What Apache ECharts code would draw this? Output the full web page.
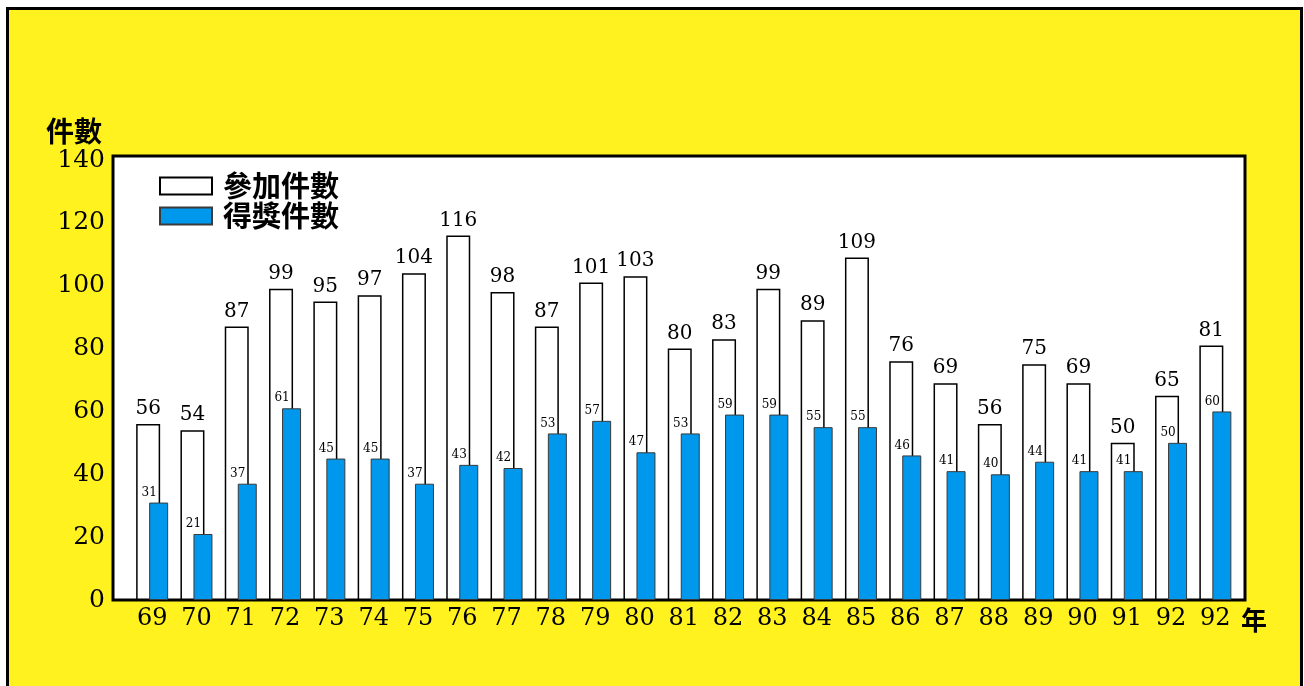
<!DOCTYPE html>
<html>
<head>
<meta charset="utf-8">
<script src="https://cdn.jsdelivr.net/npm/echarts@6/dist/echarts.min.js"></script>
<style>
html,body{margin:0;padding:0;background:#fff;overflow:hidden;width:1304px;height:686px;}
#frame{position:absolute;left:6px;top:7px;width:1297px;height:700px;box-sizing:border-box;border:3px solid #000;border-bottom:none;background:#FFF21E;}
#chart{position:absolute;left:0;top:0;width:1304px;height:686px;}
</style>
</head>
<body>
<div id="frame"></div>
<div id="chart"></div>
<script>
const categories = ['69','70','71','72','73','74','75','76','77','78','79','80','81','82','83','84','85','86','87','88','89','90','91','92','92'];
const participation = [56,54,87,99,95,97,104,116,98,87,101,103,80,83,99,89,109,76,69,56,75,69,50,65,81];
const awards = [31,21,37,61,45,45,37,43,42,53,57,47,53,59,59,55,55,46,41,40,44,41,41,50,60];
const yTicks = [0,20,40,60,80,100,120,140];
const seriesNames = ['參加件數','得獎件數'];

const chart = echarts.init(document.getElementById('chart'), null, {renderer:'canvas'});
const serif = 'DejaVu Serif';
const cjk = 'Noto Sans CJK TC';
chart.setOption({
  backgroundColor: 'transparent',
  animation: false,
  title: [
    {text:'件數', left:41, top:112, textStyle:{fontFamily:cjk, fontSize:28, fontWeight:'bold', color:'#000'}},
    {text:'年', left:1236, top:602, textStyle:{fontFamily:cjk, fontSize:26, fontWeight:'bold', color:'#000'}}
  ],
  legend: {
    data: seriesNames,
    orient: 'vertical',
    left: 159, top: 171,
    padding: 0,
    icon: 'rect',
    itemWidth: 52, itemHeight: 17, itemGap: 0,
    selectedMode: false,
    textStyle: {fontFamily:cjk, fontSize:29, fontWeight:'bold', color:'#000', lineHeight:30, padding:[0,0,0,6]}
  },
  grid: [
    {left:113, top:156, width:1132, height:444, show:true, backgroundColor:'#fff', borderColor:'#000', borderWidth:3, containLabel:false},
    {left:130, top:160, width:1107.5, height:440, containLabel:false}
  ],
  xAxis: [
    {type:'category', gridIndex:0, data:categories, show:false},
    {type:'category', gridIndex:1, data:categories,
     axisLine:{show:false}, axisTick:{show:false},
     axisLabel:{interval:0, margin:7, fontFamily:serif, fontSize:24, color:'#000'}}
  ],
  yAxis: [
    {type:'value', gridIndex:0, min:0, max:140, show:false, splitLine:{show:false}},
    {type:'value', gridIndex:1, min:yTicks[0], max:yTicks[yTicks.length-1], interval:20,
     axisLine:{show:false}, axisTick:{show:false}, splitLine:{show:false},
     axisLabel:{margin:25, fontFamily:serif, fontSize:25, color:'#000'}}
  ],
  series: [
    {name:seriesNames[0], type:'bar', xAxisIndex:1, yAxisIndex:1, data:participation,
     barWidth:24, barGap:'-45.8%',
     itemStyle:{color:'#fff', borderColor:'#000', borderWidth:1.5},
     label:{show:true, position:'top', distance:5, fontFamily:serif, fontSize:20, color:'#000'}},
    {name:seriesNames[1], type:'bar', xAxisIndex:1, yAxisIndex:1, data:awards,
     barWidth:19, barGap:'-45.8%',
     itemStyle:{color:'#0098EC', borderColor:'#3a3a3a', borderWidth:1},
     label:{show:true, position:'top', distance:4, offset:[-9.5,0], fontFamily:serif, fontSize:12, color:'#000'}}
  ]
});
</script>
</body>
</html>
